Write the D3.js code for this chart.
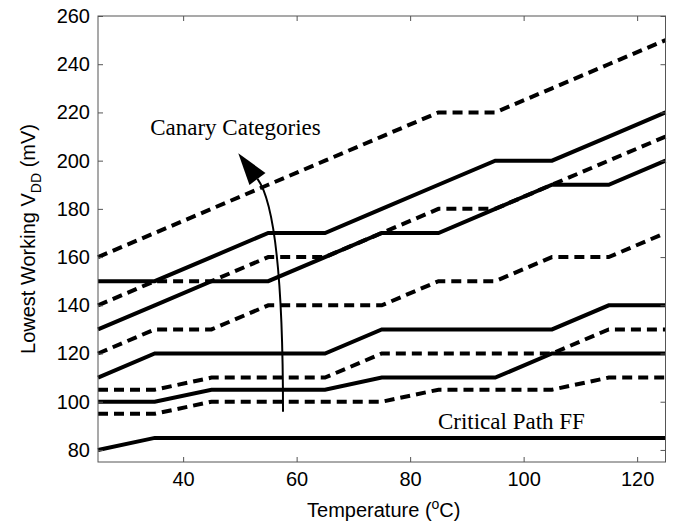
<!DOCTYPE html>
<html>
<head>
<meta charset="utf-8">
<script src="https://cdn.jsdelivr.net/npm/d3@7"></script>
<style>
  body { margin: 0; background: #fff; }
  svg { display: block; }
</style>
</head>
<body>
<div id="chart"></div>
<script>
// temperature break points (oC)
const temps = [25, 35, 45, 55, 65, 75, 85, 95, 105, 115, 125];

// lowest working VDD (mV) per line
const criticalFF = [80, 85, 85, 85, 85, 85, 85, 85, 85, 85, 85];
const dash1  = [95, 95, 100, 100, 100, 100, 105, 105, 105, 110, 110];
const solid1 = [100, 100, 105, 105, 105, 110, 110, 110, 120, 120, 120];
const dash2  = [105, 105, 110, 110, 110, 120, 120, 120, 120, 130, 130];
const solid2 = [110, 120, 120, 120, 120, 130, 130, 130, 130, 140, 140];
const dash3  = [120, 130, 130, 140, 140, 140, 150, 150, 160, 160, 170];
const solid3 = [130, 140, 150, 150, 160, 170, 170, 180, 190, 190, 200];
const dash4  = [140, 150, 150, 160, 160, 170, 180, 180, 190, 200, 210];
const solid4 = [150, 150, 160, 170, 170, 180, 190, 200, 200, 210, 220];
const dash5  = [160, 170, 180, 190, 200, 210, 220, 220, 230, 240, 250];

const xTicks = [40, 60, 80, 100, 120];
const yTicks = [80, 100, 120, 140, 160, 180, 200, 220, 240, 260];

const width = 676, height = 525;
const margin = { left: 98, right: 10.5, top: 16, bottom: 63 };

const svg = d3.select("#chart").append("svg")
  .attr("width", width).attr("height", height);

const x = d3.scaleLinear().domain([25, 125]).range([margin.left, width - margin.right]);
const y = d3.scaleLinear().domain([75, 260]).range([height - margin.bottom, margin.top]);

const series = [
  { v: criticalFF, dashed: false },
  { v: dash1, dashed: true },
  { v: solid1, dashed: false },
  { v: dash2, dashed: true },
  { v: solid2, dashed: false },
  { v: dash3, dashed: true },
  { v: solid3, dashed: false },
  { v: dash4, dashed: true },
  { v: solid4, dashed: false },
  { v: dash5, dashed: true }
];

const line = d3.line()
  .x((d, i) => x(temps[i]))
  .y(d => y(d));

const plot = svg.append("g");
plot.selectAll("path.series")
  .data(series)
  .enter()
  .append("path")
  .attr("class", "series")
  .attr("d", d => line(d.v))
  .attr("fill", "none")
  .attr("stroke", "#000")
  .attr("stroke-width", 4)
  .attr("stroke-dasharray", d => d.dashed ? "10,6" : null);

// axes (box with inward ticks on all four sides)
const axisColor = "#555";
const tickFont = "'Liberation Sans', Arial, sans-serif";

function styleAxis(g) {
  g.select(".domain").remove();
  g.selectAll(".tick line").attr("stroke", axisColor);
  g.selectAll(".tick text").attr("font-family", tickFont).attr("font-size", 20).attr("fill", "#000");
}

svg.append("g")
  .attr("transform", `translate(0,${height - margin.bottom})`)
  .call(d3.axisBottom(x).tickValues(xTicks).tickSizeInner(-5).tickSizeOuter(0).tickPadding(10))
  .call(styleAxis);

svg.append("g")
  .attr("transform", `translate(0,${margin.top})`)
  .call(d3.axisTop(x).tickValues(xTicks).tickSizeInner(-5).tickSizeOuter(0).tickFormat(""))
  .call(styleAxis);

svg.append("g")
  .attr("transform", `translate(${margin.left},0)`)
  .call(d3.axisLeft(y).tickValues(yTicks).tickSizeInner(-5).tickSizeOuter(0).tickPadding(8))
  .call(styleAxis);

svg.append("g")
  .attr("transform", `translate(${width - margin.right},0)`)
  .call(d3.axisRight(y).tickValues(yTicks).tickSizeInner(-5).tickSizeOuter(0).tickFormat(""))
  .call(styleAxis);

svg.append("rect")
  .attr("x", x(25)).attr("y", y(260))
  .attr("width", x(125) - x(25)).attr("height", y(75) - y(260))
  .attr("fill", "none").attr("stroke", axisColor).attr("stroke-width", 1);

// axis titles
const xt = svg.append("text")
  .attr("x", (x(25) + x(125)) / 2 + 2).attr("y", 517)
  .attr("text-anchor", "middle")
  .attr("font-family", tickFont).attr("font-size", 20);
xt.append("tspan").text("Temperature (");
xt.append("tspan").attr("dy", -8).attr("font-size", 14).text("o");
xt.append("tspan").attr("dy", 8).text("C)");

const yt = svg.append("text")
  .attr("transform", `translate(35,${(y(75) + y(260)) / 2}) rotate(-90)`)
  .attr("text-anchor", "middle")
  .attr("font-family", tickFont).attr("font-size", 20);
yt.append("tspan").text("Lowest Working V");
yt.append("tspan").attr("dy", 6).attr("font-size", 14).text("DD");
yt.append("tspan").attr("dy", -6).text(" (mV)");

// annotations
const serif = "'Liberation Serif', 'Times New Roman', serif";
svg.append("text")
  .attr("x", x(34.2)).attr("y", y(210.6))
  .attr("font-family", serif).attr("font-size", 23)
  .text("Canary Categories");

svg.append("text")
  .attr("x", x(84.9)).attr("y", y(88.7))
  .attr("font-family", serif).attr("font-size", 23)
  .text("Critical Path FF");

// curved arrow, bottom to tip
const arrowPts = [[57.6, 95.8], [57.6, 146.4], [56.26, 182.4], [53.1, 192.4]];
const arrowTip = [49.72, 203.1];
const p = arrowPts.map(d => [x(d[0]), y(d[1])]);
const path = d3.path();
path.moveTo(p[0][0], p[0][1]);
path.bezierCurveTo(p[1][0], p[1][1], p[2][0], p[2][1], p[3][0], p[3][1]);
svg.append("path")
  .attr("d", path.toString())
  .attr("fill", "none").attr("stroke", "#000").attr("stroke-width", 2);

const tip = [x(arrowTip[0]), y(arrowTip[1])];
const base = p[3];
const dx = tip[0] - base[0], dy = tip[1] - base[1];
const len = Math.hypot(dx, dy);
const nx = -dy / len, ny = dx / len, half = 10;
svg.append("path")
  .attr("d", `M${tip[0]},${tip[1]}L${base[0] + nx * half},${base[1] + ny * half}L${base[0] - nx * half},${base[1] - ny * half}Z`)
  .attr("fill", "#000");
</script>
</body>
</html>
